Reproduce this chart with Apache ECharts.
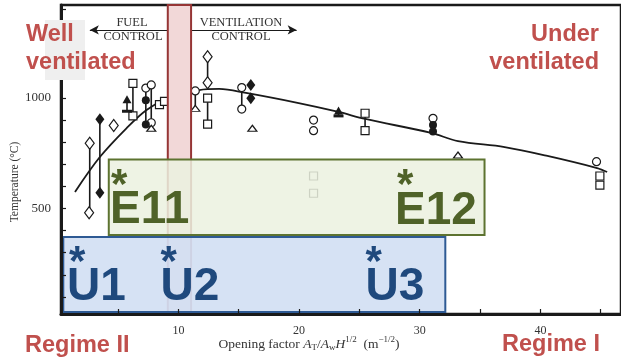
<!DOCTYPE html>
<html>
<head>
<meta charset="utf-8">
<script src="https://cdn.jsdelivr.net/npm/echarts@6/dist/echarts.min.js"></script>
<style>
  html, body { margin: 0; padding: 0; background: #fff; }
  #chart { width: 621px; height: 359px; }
</style>
</head>
<body>
<div id="chart"></div>
<script>
// Compartment temperature against opening factor, with regime annotations.

// Axis extents and tick marks
const xRange = [0.27, 46.68];
const yRange = [22.6, 1420.8];
const xTickValues = [5, 10, 15, 20, 25, 30, 35, 40, 45];
const xLabelValues = [10, 20, 30, 40];
const yTickValues = [100, 200, 300, 400, 500, 600, 700, 800, 900, 1000, 1100, 1200, 1300, 1400];
const yLabelValues = [500, 1000];

// Measured temperatures [opening factor, °C], grouped by marker
const openDiamond = [[2.65, 795], [2.6, 481], [4.64, 876], [12.42, 1187], [12.42, 1069]];
const filledDiamond = [[3.49, 904], [3.49, 571], [16.0, 1059], [16.0, 999]];
const openSquare = [[6.23, 1066], [6.23, 919], [8.43, 970], [8.85, 985], [12.42, 999], [12.42, 882],
  [25.47, 931], [25.47, 852], [21.2, 647], [21.2, 569], [44.93, 647], [44.93, 606]];
const openCircle = [[7.3, 1045], [7.75, 1059], [7.75, 888], [11.4, 1032], [15.25, 1047], [15.25, 950],
  [21.2, 900], [21.2, 852], [31.1, 908], [44.65, 712]];
const filledCircle = [[7.3, 990], [7.3, 880], [31.1, 878], [31.1, 848]];
const openTriangle = [[7.75, 863], [11.4, 953], [16.13, 863], [33.17, 742]];
const filledTriangle = [[5.74, 994], [23.27, 943]];
const filledBar = [[5.74, 940], [23.27, 919]];

// Vertical spread between paired readings [x, low, high]
const rangeBars = [[2.65, 481, 795], [3.49, 571, 904], [5.74, 940, 994], [6.23, 919, 1066],
  [7.3, 880, 1045], [7.75, 888, 1059], [12.42, 1069, 1187], [12.42, 882, 999], [11.4, 953, 1032],
  [15.25, 950, 1047], [23.27, 919, 943], [25.47, 852, 931], [31.1, 848, 908]];

// Fitted trend curve
const trendCurve = [[1.43, 575], [3.49, 733], [5.71, 864], [7.36, 946], [9.01, 995], [11.73, 1036],
  [13.38, 1041], [15.6, 1023], [19.97, 977], [23.27, 937], [25.5, 905], [30.94, 842], [33.17, 805],
  [37.04, 778], [40.58, 738], [44.7, 683], [45.53, 665]];

// Regime bands [x0, x1, y0, y1] in data units
const transitionBand = [[9.12, 11.05, 32, 1420.8]];
const experimentBox = [[4.23, 35.37, 380, 722]];
const underBox = [[0.46, 32.12, 32, 371]];

// Control-regime arrows [from x, to x, y]
const fuelArrow = [9.12, 2.66, 1308];
const ventArrow = [11.05, 19.8, 1308];

const SERIF = '"Liberation Serif", "Times New Roman", serif';
const SANS = '"Liberation Sans", Arial, sans-serif';
const RED = '#c0504d';
const GREEN = '#4f6228';
const BLUE = '#1f497d';
const INK = '#1a1a1a';

function rectItem(fill, stroke) {
  return function (params, api) {
    const p0 = api.coord([api.value(0), api.value(3)]);
    const p1 = api.coord([api.value(1), api.value(2)]);
    return {
      type: 'rect',
      shape: { x: p0[0], y: p0[1], width: p1[0] - p0[0], height: p1[1] - p0[1] },
      style: { fill: fill, stroke: stroke, lineWidth: 2 }
    };
  };
}

function scatter(name, data, symbol, size, filled) {
  return {
    name: name, type: 'scatter', data: data, symbol: symbol, symbolSize: size, z: 3,
    itemStyle: { color: filled ? INK : '#ffffff', borderColor: INK, borderWidth: filled ? 0 : 1.2, opacity: 1 }
  };
}

function txt(text, x, y, font, color, align) {
  return {
    type: 'text', z: 10, x: x, y: y,
    style: { text: text, font: font, fill: color,
      align: align, verticalAlign: 'middle', textAlign: align, textVerticalAlign: 'middle' }
  };
}

function arrowLine(a) {
  return [{ coord: [a[0], a[2]] }, { coord: [a[1], a[2]] }];
}

const chart = echarts.init(document.getElementById('chart'), null, { renderer: 'canvas' });

chart.setOption({
  animation: false,
  backgroundColor: '#ffffff',
  grid: { left: 61, right: -3, top: 5, bottom: 45, show: true, borderColor: INK, borderWidth: 2.5 },
  xAxis: {
    type: 'value', min: xRange[0], max: xRange[1], z: 8,
    axisLine: { onZero: false, lineStyle: { color: INK, width: 3 } },
    axisTick: { show: true, inside: true, length: 5, customValues: xTickValues, lineStyle: { color: INK, width: 1.2 } },
    axisLabel: { customValues: xLabelValues, margin: 11, color: '#333', fontFamily: SERIF, fontSize: 12,
      formatter: function (v) { return String(v); } },
    splitLine: { show: false }
  },
  yAxis: {
    type: 'value', min: yRange[0], max: yRange[1], z: 8,
    axisLine: { onZero: false, lineStyle: { color: INK, width: 3 } },
    axisTick: { show: true, inside: true, length: 5, customValues: yTickValues, lineStyle: { color: INK, width: 1.2 } },
    axisLabel: { customValues: yLabelValues, margin: 10, color: '#333', fontFamily: SERIF, fontSize: 13,
      formatter: function (v) { return String(v); } },
    splitLine: { show: false }
  },
  series: [
    {
      name: 'spread', type: 'custom', z: 2, data: rangeBars,
      renderItem: function (params, api) {
        const lo = api.coord([api.value(0), api.value(1)]);
        const hi = api.coord([api.value(0), api.value(2)]);
        return { type: 'line', shape: { x1: lo[0], y1: lo[1], x2: hi[0], y2: hi[1] }, style: { stroke: INK, lineWidth: 1.6 } };
      }
    },
    {
      name: 'trend', type: 'line', z: 2, data: trendCurve, smooth: 0.35, symbol: 'none',
      lineStyle: { color: INK, width: 1.8 },
      markLine: {
        silent: true, symbol: ['none', 'arrow'], symbolSize: [7, 9],
        label: { show: false },
        lineStyle: { color: INK, width: 1.2, type: 'solid' },
        data: [arrowLine(fuelArrow), arrowLine(ventArrow)]
      }
    },
    scatter('openDiamond', openDiamond, 'diamond', [9, 12], false),
    scatter('filledDiamond', filledDiamond, 'diamond', [9, 12], true),
    scatter('openSquare', openSquare, 'rect', [8, 8], false),
    scatter('openCircle', openCircle, 'circle', 8, false),
    scatter('filledCircle', filledCircle, 'circle', 8, true),
    scatter('openTriangle', openTriangle, 'triangle', [9, 6], false),
    scatter('filledTriangle', filledTriangle, 'triangle', [9, 8], true),
    scatter('filledBar', filledBar, 'rect', [10, 3], true),
    {
      name: 'transition', type: 'custom', z: 6, data: transitionBand,
      renderItem: rectItem('#f2d8d8', '#963535')
    },
    {
      name: 'experiments', type: 'custom', z: 7, data: experimentBox,
      renderItem: rectItem('rgba(235,241,224,0.86)', '#5d7330')
    },
    {
      name: 'underventilated', type: 'custom', z: 7, data: underBox,
      renderItem: rectItem('rgba(210,224,243,0.92)', '#2e5a94')
    }
  ],
  graphic: [
    // faint patch behind the left heading
    { type: 'rect', z: 9, shape: { x: 45, y: 20, width: 40, height: 60 }, style: { fill: '#efefef' } },
    txt('Well', 26, 35, 'bold 23.5px ' + SANS, RED, 'left'),
    txt('ventilated', 26, 63, 'bold 23.5px ' + SANS, RED, 'left'),
    txt('Under', 599, 35, 'bold 23.5px ' + SANS, RED, 'right'),
    txt('ventilated', 599, 63, 'bold 23.5px ' + SANS, RED, 'right'),
    txt('Regime II', 25, 346, 'bold 23.5px ' + SANS, RED, 'left'),
    txt('Regime I', 600, 345, 'bold 23.5px ' + SANS, RED, 'right'),

    txt('FUEL', 132, 22.5, '12.5px ' + SERIF, '#333', 'center'),
    txt('CONTROL', 133, 37, '12.5px ' + SERIF, '#333', 'center'),
    txt('VENTILATION', 241, 22.5, '12.5px ' + SERIF, '#333', 'center'),
    txt('CONTROL', 241, 37, '12.5px ' + SERIF, '#333', 'center'),

    txt('*', 111, 186, 'bold 42px ' + SANS, GREEN, 'left'),
    txt('E11', 110, 210, 'bold 46px ' + SANS, GREEN, 'left'),
    txt('*', 397, 186, 'bold 42px ' + SANS, GREEN, 'left'),
    txt('E12', 395, 211, 'bold 46px ' + SANS, GREEN, 'left'),
    txt('*', 69, 263.5, 'bold 42px ' + SANS, BLUE, 'left'),
    txt('U1', 67, 287.5, 'bold 46px ' + SANS, BLUE, 'left'),
    txt('*', 160.5, 263.5, 'bold 42px ' + SANS, BLUE, 'left'),
    txt('U2', 160.5, 287.5, 'bold 46px ' + SANS, BLUE, 'left'),
    txt('*', 365.5, 263.5, 'bold 42px ' + SANS, BLUE, 'left'),
    txt('U3', 365.5, 287.5, 'bold 46px ' + SANS, BLUE, 'left'),

    {
      type: 'text', z: 10, x: 15, y: 182, rotation: Math.PI / 2,
      style: { text: 'Temperature (°C)', font: '11.5px ' + SERIF, fill: '#333',
        align: 'center', verticalAlign: 'middle', textAlign: 'center', textVerticalAlign: 'middle' }
    },
    {
      type: 'text', z: 10, x: 309, y: 344,
      style: {
        text: '{n|Opening factor }{i|A}{sub|T}{n|/}{i|A}{sub|w}{i|H}{sup|1/2}{n|  (m}{sup|−1/2}{n|)}',
        align: 'center', verticalAlign: 'middle', textAlign: 'center', textVerticalAlign: 'middle',
        fill: '#333',
        rich: {
          n: { fontFamily: SERIF, fontSize: 13.5, fill: '#333' },
          i: { fontFamily: SERIF, fontSize: 13.5, fontStyle: 'italic', fill: '#333' },
          sub: { fontFamily: SERIF, fontSize: 9, fill: '#333', padding: [8, 0, 0, 0] },
          sup: { fontFamily: SERIF, fontSize: 9, fill: '#333', padding: [0, 0, 8, 0] }
        }
      }
    }
  ]
});
</script>
</body>
</html>
